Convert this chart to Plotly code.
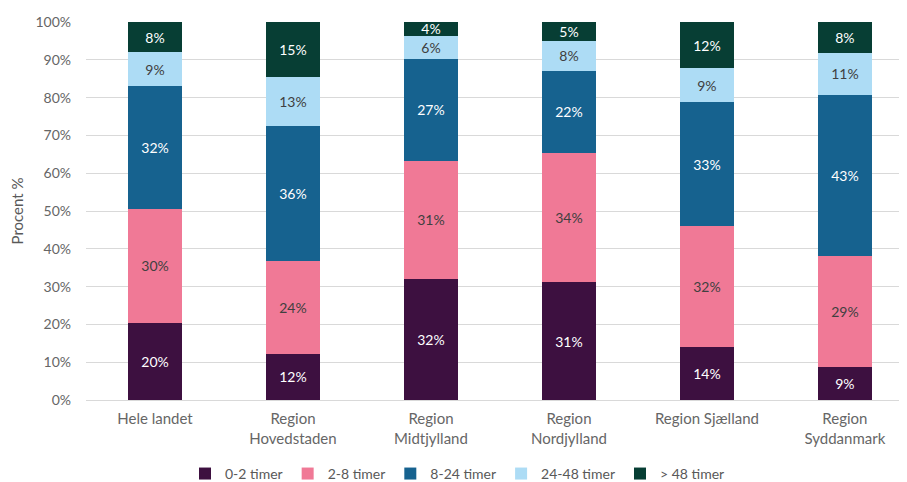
import plotly.graph_objects as go

regions = ['Hele landet', 'Region<br>Hovedstaden', 'Region<br>Midtjylland',
           'Region<br>Nordjylland', 'Region Sjælland', 'Region<br>Syddanmark']

t_0_2 = [20.4, 12.3, 32.0, 31.2, 14.0, 8.6]
t_2_8 = [30.2, 24.4, 31.3, 34.1, 32.0, 29.4]
t_8_24 = [32.4, 35.7, 26.9, 21.8, 32.8, 42.7]
t_24_48 = [9.0, 13.1, 6.1, 8.0, 9.0, 11.1]
t_48 = [8.0, 14.5, 3.7, 4.9, 12.2, 8.2]

series = [
    ('0-2 timer', t_0_2, '#3d1040', 'white'),
    ('2-8 timer', t_2_8, '#f07996', '#404040'),
    ('8-24 timer', t_8_24, '#16628f', 'white'),
    ('24-48 timer', t_24_48, '#addcf5', '#404040'),
    ('> 48 timer', t_48, '#073e34', 'white'),
]

fig = go.Figure()
for name, vals, col, tcol in series:
    fig.add_trace(go.Bar(
        x=regions, y=vals, name=name, marker_color=col,
        marker_line_width=0, width=0.39,
        texttemplate='%{y:.0f}%', textposition='inside',
        insidetextanchor='middle', textangle=0, constraintext='none',
        textfont=dict(color=tcol, size=14, family='Lato'),
    ))

# page body has an 8px margin, so the figure is a little smaller than the window
fig.update_layout(
    barmode='stack',
    width=899, height=474,
    margin=dict(l=78, r=0, t=14, b=82),
    plot_bgcolor='white', paper_bgcolor='white',
    font=dict(family='Lato', color='#595959', size=14),
    legend=dict(orientation='h', xref='container', x=0.5, xanchor='center',
                yref='container', y=0.017, yanchor='middle',
                font=dict(size=14, color='#595959'), traceorder='normal',
                itemwidth=30),
)
fig.update_yaxes(
    range=[0, 100], dtick=10, ticksuffix='%',
    showgrid=True, gridcolor='#d9d9d9', gridwidth=1,
    zeroline=False, ticks='', ticklabelstandoff=14,
    tickfont=dict(size=14, color='#666666'),
    title=dict(text='Procent %', standoff=9, font=dict(size=15, color='#595959')),
    automargin=False,
)
fig.update_xaxes(
    range=[-0.5, 5.45], showline=True, linecolor='#d9d9d9', linewidth=1,
    ticks='', ticklabelstandoff=5,
    tickfont=dict(size=15, color='#666666'),
    automargin=False,
)

fig.write_html("out.html")
